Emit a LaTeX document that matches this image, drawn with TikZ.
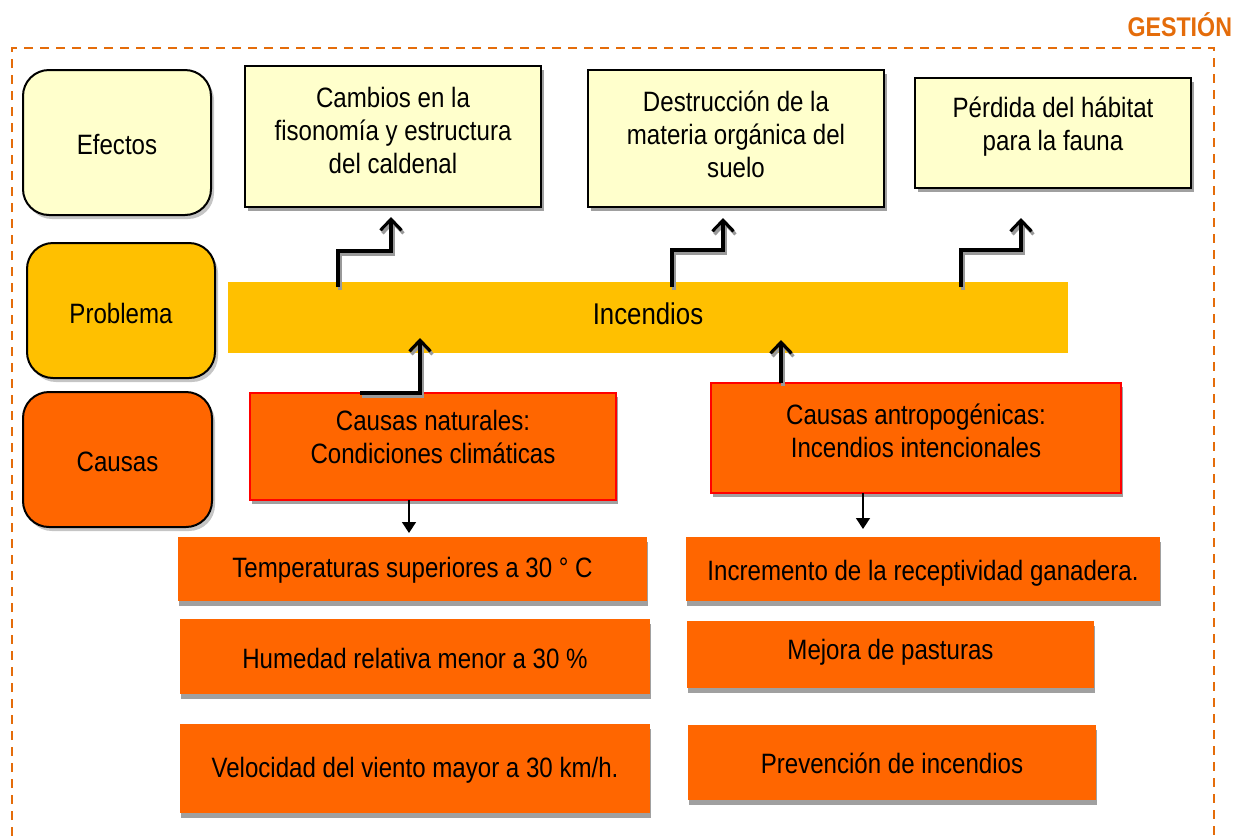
\documentclass[tikz,border=0pt]{standalone}
\usepackage{fontspec}
\setmainfont{Liberation Sans}[FakeStretch=0.86]
\usetikzlibrary{arrows.meta,shadows}
\definecolor{effy}{HTML}{FFFFCC}
\definecolor{probc}{HTML}{FFC000}
\definecolor{causc}{HTML}{FF6600}
\definecolor{gest}{HTML}{E46C0A}
\definecolor{shad}{HTML}{A0A0A0}
\begin{document}
\begin{tikzpicture}[x=1pt,y=-1pt,
  every node/.style={inner sep=0pt,outer sep=0pt},
  txt/.style={align=center,font=\fontsize{28}{33}\selectfont},
  rowbox/.style={draw=black,line width=2pt,rounded corners=26pt,
    drop shadow={shadow xshift=3pt,shadow yshift=-4pt,fill=black!45}},
  effbox/.style={draw=black,line width=2.2pt,fill=effy,
    drop shadow={shadow xshift=3pt,shadow yshift=-4pt,fill=shad,opacity=1}},
  causbox/.style={draw=red,line width=1.3pt,fill=causc,
    drop shadow={shadow xshift=2pt,shadow yshift=-4pt,fill=shad,opacity=1}},
  listbox/.style={fill=causc,
    drop shadow={shadow xshift=0.5pt,shadow yshift=-5pt,fill=shad,opacity=1}},
  bigarr/.style={draw=black,line width=3.2pt,-{Straight Barb[length=11pt,width=21pt]}},
  bigarrshadow/.style={draw=black!40,line width=3.2pt,-{Straight Barb[length=11pt,width=21pt]},
    transform canvas={shift={(2pt,-3pt)}}},
  smallarr/.style={draw=black,line width=1.4pt,-{Triangle[length=11pt,width=14pt]}}
]
\useasboundingbox (0,0) rectangle (1234,836);

% frame and title
\draw[gest,line width=2.4pt,dash pattern=on 9pt off 7pt] (12,836) -- (12,48) -- (1214,48) -- (1214,836);
\node[anchor=base east,font=\bfseries\fontsize{27}{30}\selectfont,text=gest] (gestion) at (1232,36) {GESTIÓN};

% row labels
\node[rowbox,fill=effy,minimum width=188pt,minimum height=145pt] (efectos) at (117,142.5) {};
\node[txt] (efectost) at (117,145) {Efectos};
\node[rowbox,fill=probc,minimum width=188pt,minimum height=135pt] (problema) at (121,310.5) {};
\node[txt] (problemat) at (121,313) {Problema};
\node[rowbox,fill=causc,minimum width=189pt,minimum height=135pt] (causas) at (117.5,459.5) {};
\node[txt] (causast) at (117.5,462) {Causas};

% effects
\node[effbox,minimum width=296pt,minimum height=141pt] (e1) at (393,136.5) {};
\node[txt] (e1t) at (393,130) {Cambios en la\\fisonomía y estructura\\del caldenal};
\node[effbox,minimum width=296pt,minimum height=137pt] (e2) at (736,138.5) {};
\node[txt] (e2t) at (736,134) {Destrucción de la\\materia orgánica del\\suelo};
\node[effbox,minimum width=276pt,minimum height=110pt] (e3) at (1053,133) {};
\node[txt] (e3t) at (1053,126.5) {Pérdida del hábitat\\para la fauna};

% problem
\node[fill=probc,minimum width=840pt,minimum height=71pt] (inc) at (648,317.5) {};
\node[txt,font=\fontsize{30}{34}\selectfont] (inct) at (648,314) {Incendios};

% causes
\node[causbox,minimum width=366pt,minimum height=107pt] (cn) at (433,446.5) {};
\node[txt] (cnt) at (433,436.5) {Causas naturales:\\Condiciones climáticas};
\node[causbox,minimum width=410pt,minimum height=110pt] (ca) at (916,438) {};
\node[txt] (cat) at (916,430.5) {Causas antropogénicas:\\Incendios intencionales};

% lists
\node[listbox,minimum width=469pt,minimum height=64pt] (t1) at (412.5,569) {};
\node[txt] (t1t) at (412.5,570) {Temperaturas superiores a 30 ° C};
\node[listbox,minimum width=470pt,minimum height=75pt] (t2) at (415,656.5) {};
\node[txt] (t2t) at (415,658) {Humedad relativa menor a 30 \%};
\node[listbox,minimum width=470pt,minimum height=89pt] (t3) at (415,768.5) {};
\node[txt] (t3t) at (415,770) {Velocidad del viento mayor a 30 km/h.};
\node[listbox,minimum width=474pt,minimum height=64pt] (r1) at (923,569) {};
\node[txt] (r1t) at (923,573) {Incremento de la receptividad ganadera.};
\node[listbox,minimum width=407pt,minimum height=67pt] (r2) at (890.5,654.5) {};
\node[txt] (r2t) at (890.5,652) {Mejora de pasturas};
\node[listbox,minimum width=408pt,minimum height=75pt] (r3) at (892,762.5) {};
\node[txt] (r3t) at (892,763) {Prevención de incendios};

% connector points
\coordinate (a1) at (338,287); \coordinate (a1m) at (391,251); \coordinate (a1t) at (391,217);
\coordinate (a2) at (672,287); \coordinate (a2m) at (723,250); \coordinate (a2t) at (723,218);
\coordinate (a3) at (961,287); \coordinate (a3m) at (1021,250); \coordinate (a3t) at (1021,218);
\coordinate (u1s) at (360,393); \coordinate (u1m) at (420,393); \coordinate (u1t) at (420,338);
\coordinate (u2s) at (781,383); \coordinate (u2t) at (781,340);
\coordinate (d1s) at (409,500); \coordinate (d1t) at (409,533);
\coordinate (d2s) at (863,493); \coordinate (d2t) at (863,529);

% shadows of arrows
\draw[bigarrshadow] (a1) |- (a1m) -- (a1t);
\draw[bigarrshadow] (a2) |- (a2m) -- (a2t);
\draw[bigarrshadow] (a3) |- (a3m) -- (a3t);
\draw[bigarrshadow] (u1s) -- (u1m) -- (u1t);
\draw[bigarrshadow] (u2s) -- (u2t);

% arrows
\draw[bigarr] (a1) |- (a1m) -- (a1t);
\draw[bigarr] (a2) |- (a2m) -- (a2t);
\draw[bigarr] (a3) |- (a3m) -- (a3t);
\draw[bigarr] (u1s) -- (u1m) -- (u1t);
\draw[bigarr] (u2s) -- (u2t);
\draw[smallarr] (d1s) -- (d1t);
\draw[smallarr] (d2s) -- (d2t);
\end{tikzpicture}
\end{document}
